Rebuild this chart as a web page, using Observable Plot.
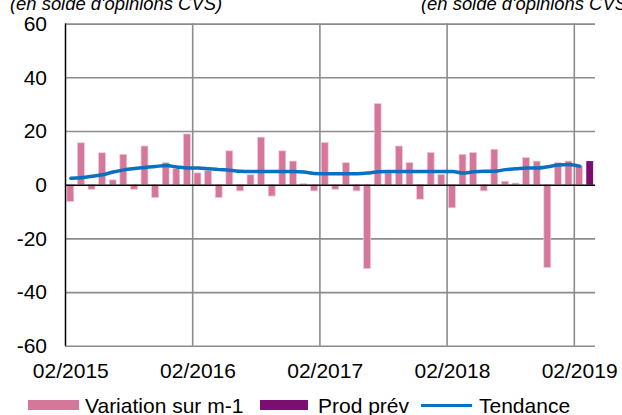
<!DOCTYPE html>
<html><head><meta charset="utf-8">
<script src="https://cdn.jsdelivr.net/npm/d3@7"></script>
<script src="https://cdn.jsdelivr.net/npm/@observablehq/plot@0.6"></script>
<style>
html,body{margin:0;padding:0;background:#fff;overflow:hidden;}
#wrap{position:relative;width:622px;height:415px;overflow:hidden;font-family:"Liberation Sans",Arial,sans-serif;color:#000;}
#chart{position:absolute;left:0;top:0;}
.note{position:absolute;font-style:italic;font-size:18.4px;line-height:18px;white-space:nowrap;}
.leg{position:absolute;font-size:21px;line-height:21px;white-space:nowrap;}
.sw{position:absolute;}
</style></head>
<body><div id="wrap">
<div id="chart"></div>
<div id="notes"></div>
<div id="legend"></div>
</div>
<script>
// Categories: monthly, 02/2015 .. 03/2019 (50 months)
const startYear = 2015, startMonth = 2, nMonths = 50;
const months = [];
for (let k = 0; k < nMonths; k++) {
  const m = (startMonth - 1 + k) % 12 + 1, y = startYear + Math.floor((startMonth - 1 + k) / 12);
  months.push(String(m).padStart(2, "0") + "/" + y);
}
const tickLabels = ["02/2015", "02/2016", "02/2017", "02/2018", "02/2019"];
const yTicks = [-60, -40, -20, 0, 20, 40, 60];

// Series "Variation sur m-1" (02/2015 .. 02/2019)
const variation = [
  -6.2, 15.6, -1.7, 11.9, 1.8, 11.3, -1.7, 14.4, -4.8, 8.2,
  6.1, 18.9, 4.4, 5.2, -4.8, 12.6, -2.3, 3.7, 17.7, -4.2,
  12.6, 8.8, 0.4, -2.3, 15.7, -1.7, 8.2, -2.3, -31.2, 30.2,
  4.4, 14.4, 8.2, -5.4, 12.0, 3.8, -8.6, 11.3, 12.0, -2.3,
  13.2, 1.3, 0.6, 10.1, 8.8, -30.8, 8.2, 8.8, 7.0
];
// Series "Prod prév" (03/2019)
const prodPrevMonths = ["03/2019"];
const prodPrev = [8.8];
// Series "Tendance" (02/2015 .. 02/2019)
const tendance = [
  2.6, 2.8, 3.3, 3.9, 4.9, 5.7, 6.2, 6.6, 7.0, 7.3,
  6.8, 6.4, 6.4, 6.1, 5.8, 5.6, 5.2, 5.1, 5.1, 5.1,
  5.1, 5.1, 4.9, 4.4, 4.3, 4.3, 4.3, 4.3, 4.5, 5.0,
  5.1, 5.1, 5.1, 5.1, 5.1, 5.1, 5.1, 4.5, 5.0, 5.2,
  5.2, 5.8, 6.1, 6.4, 6.4, 6.9, 7.5, 7.7, 7.1
];

const seriesNames = ["Variation sur m-1", "Prod prév", "Tendance"];
const colors = ["#d5779b", "#7b0f71", "#0a70c2"];
const noteText = "(en solde d'opinions CVS)";

const idx = m => months.indexOf(m);
const varData = variation.map((v, i) => ({i, v}));
const prodData = prodPrev.map((v, k) => ({i: idx(prodPrevMonths[k]), v}));
const trendData = tendance.map((v, i) => ({i, v}));
const tickPos = tickLabels.map(l => idx(l) + 0.5);
const gridX = tickLabels.slice(1).map(l => idx(l));
const gridY = yTicks.filter(t => t !== 0);

const inset = 0.175;
const chart = Plot.plot({
  width: 622, height: 385,
  marginTop: 23.6, marginBottom: 39.2, marginLeft: 65, marginRight: 27,
  style: {fontSize: "21px", fontFamily: "Liberation Sans, Arial, sans-serif", color: "#000", background: "transparent"},
  x: {type: "linear", domain: [0, nMonths], ticks: tickPos, tickFormat: d => tickLabels[tickPos.indexOf(d)], tickSize: 0, tickPadding: 17, label: null},
  y: {domain: [-60, 60], ticks: yTicks, tickFormat: d => String(d), tickSize: 0, tickPadding: 18.5, label: null},
  marks: [
    Plot.ruleY(gridY, {stroke: "#8c8c8c", strokeWidth: 1.6}),
    Plot.ruleX(gridX, {stroke: "#8c8c8c", strokeWidth: 1.6}),
    Plot.rect(varData, {x1: d => d.i + inset, x2: d => d.i + 1 - inset, y1: 0, y2: d => d.v, fill: colors[0], stroke: "#f0c6d6", strokeWidth: 0.7}),
    Plot.rect(prodData, {x1: d => d.i + inset, x2: d => d.i + 1 - inset, y1: 0, y2: d => d.v, fill: colors[1]}),
    Plot.ruleY([0], {stroke: "#000", strokeWidth: 1.5}),
    Plot.ruleX([0], {stroke: "#000", strokeWidth: 1.5}),
    Plot.line(trendData, {x: d => d.i + 0.5, y: d => d.v, stroke: colors[2], strokeWidth: 3.5, curve: "monotone-x"})
  ]
});
document.getElementById("chart").appendChild(chart);

// notes at top (cut off like the reference)
const notes = document.getElementById("notes");
[[10], [421]].forEach(([left]) => {
  const d = document.createElement("div");
  d.className = "note"; d.style.left = left + "px"; d.style.top = "-5px";
  d.textContent = noteText;
  notes.appendChild(d);
});

// legend
const legend = document.getElementById("legend");
const legItems = [
  {sw: {left: 28, top: 400, width: 51, height: 10}, text: 85},
  {sw: {left: 260, top: 400, width: 48, height: 10}, text: 318},
  {sw: {left: 421, top: 403.5, width: 51, height: 3}, text: 479}
];
legItems.forEach((it, k) => {
  const s = document.createElement("div");
  s.className = "sw";
  Object.entries(it.sw).forEach(([p, v]) => s.style[p] = v + "px");
  s.style.background = colors[k];
  legend.appendChild(s);
  const t = document.createElement("div");
  t.className = "leg"; t.style.left = it.text + "px"; t.style.top = "395px";
  t.textContent = seriesNames[k];
  legend.appendChild(t);
});
</script>
</body></html>
